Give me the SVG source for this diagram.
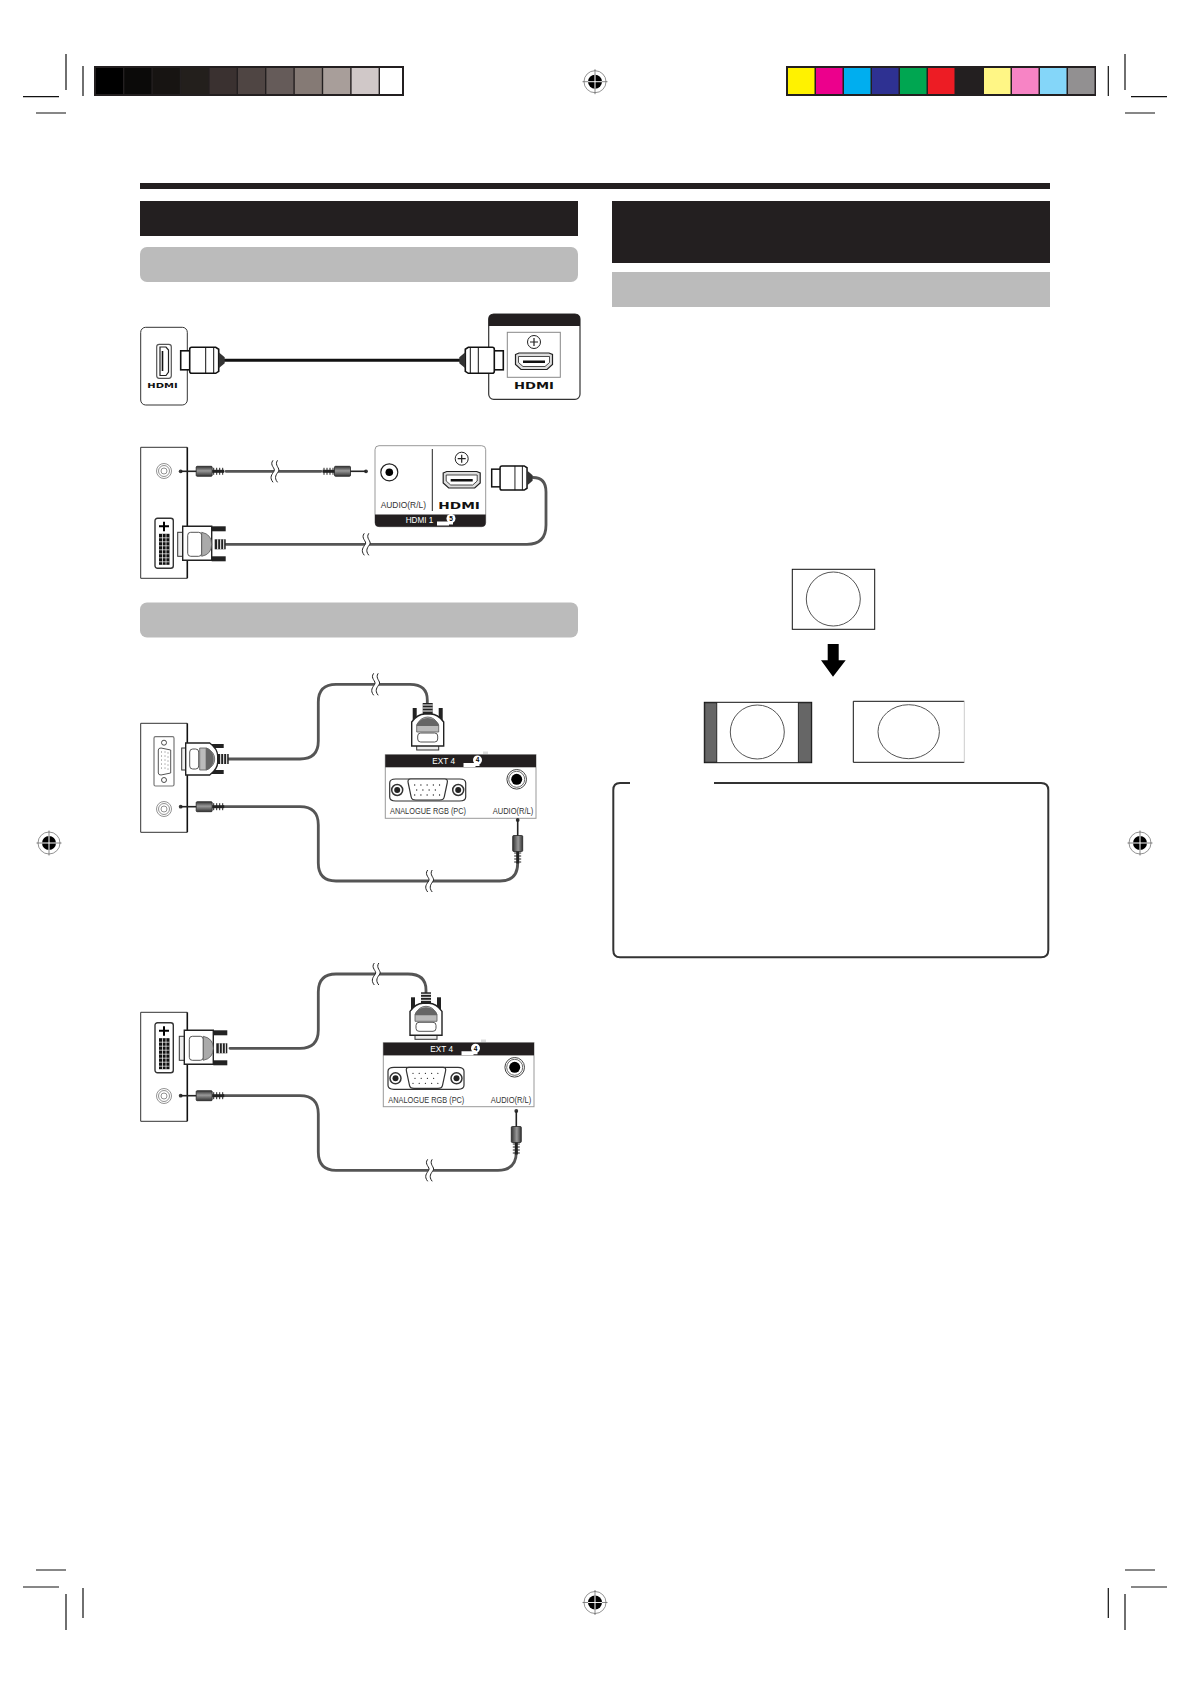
<svg xmlns="http://www.w3.org/2000/svg" xmlns:xlink="http://www.w3.org/1999/xlink" width="1190" height="1684" viewBox="0 0 1190 1684">
<style>
.crop{stroke:#111;stroke-width:1.2;fill:none}
.bk{fill:#231f20}
.gy{fill:#bbb}
.cable{fill:none;stroke:#555;stroke-width:2.8;stroke-linecap:round}
.panel{fill:#fff;stroke:#333;stroke-width:1}
.edge{stroke:#111;stroke-width:1.6;fill:none}
.dev{fill:#fff;stroke:#999;stroke-width:1}
.lbl{font-family:"Liberation Sans",Arial,sans-serif;font-size:8.4px;fill:#333}
.wht{font-family:"Liberation Sans",Arial,sans-serif;font-size:8.4px;fill:#fff}
.num{font-family:"Liberation Sans",Arial,sans-serif;font-size:6.5px;font-weight:bold;fill:#000;text-anchor:middle}
.logo{font-family:"DejaVu Sans",sans-serif;font-weight:bold;fill:#111}
.scr{fill:#fff;stroke:#222;stroke-width:1.4}
.cir{fill:none;stroke:#555;stroke-width:1}
</style>
<defs>
<linearGradient id="barH" x1="0" y1="0" x2="0" y2="1"><stop offset="0" stop-color="#333"/><stop offset=".45" stop-color="#999"/><stop offset="1" stop-color="#333"/></linearGradient>
<g id="target"><circle r="11" fill="#fff" stroke="#777" stroke-width=".8"/><circle r="7" fill="#000"/><path d="M-12.5,0H12.5M0,-12.5V12.5" stroke="#555" stroke-width=".7"/><path d="M-7,0H7M0,-7V7" stroke="#fff" stroke-width=".9"/></g>
<g id="brk"><path d="M-3,-11 C-7,-6 0,-3 -2,0 C-4,3 -7,6 -3,11 H1.500 C-2.500,6 .5,3 2.500,0 C4.500,-3 -2,-6 1.500,-11Z" fill="#fff"/><path d="M-3,-11 C-7,-6 0,-3 -2,0 C-4,3 -7,6 -3,11M1.500,-11 C-2,-6 4.500,-3 2.500,0 C.5,3 -2.500,6 1.500,11" fill="none" stroke="#222" stroke-width="1"/></g>
<g id="hdmiPlug"><rect x="0" y="-9.500" width="10" height="19" fill="#fff" stroke="#111" stroke-width="1.600"/><path d="M9,-11 Q9,-13 11,-13 H35 L38,-11 V11 L35,13 H11 Q9,13 9,11Z" fill="#fff" stroke="#111" stroke-width="1.600"/><path d="M25,-13V13M33,-13V13" stroke="#111" stroke-width="1"/><path d="M38,-8 L44,-3 V3 L38,8Z" fill="#333"/></g>
<g id="audioPlug"><circle r="1.900" fill="#333"/><path d="M0,0H16" stroke="#222" stroke-width="1.600"/><rect x="15.500" y="-5" width="16" height="10" rx="1" fill="url(#barH)" stroke="#222" stroke-width=".8"/><rect x="31.500" y="-1.500" width="12" height="3" fill="#222"/><path d="M33,-3.500V3.500M36,-3.500V3.500M39,-3.500V3.500M42,-3.500V3.500" stroke="#222" stroke-width="1"/></g>
<g id="dsub"><rect x="30" y="-15" width="12" height="4" fill="#222"/><rect x="30" y="11" width="12" height="4" fill="#222"/><rect x="0" y="-11" width="5" height="22" fill="#eee" stroke="#333" stroke-width="1"/><path d="M4,-16 H28 Q36,-10 36,-3 V3 Q36,10 28,16 H4Z" fill="#fff" stroke="#222" stroke-width="1.400"/><rect x="8" y="-10" width="9" height="20" rx="3" fill="#fff" stroke="#555" stroke-width="1"/><path d="M18,-11 H25 Q33,-7 33,0 Q33,7 25,11 H18Z" fill="#bbb" stroke="#555" stroke-width=".8"/><path d="M24,-11 H26 Q32,-7 32,0 Q32,7 26,11 H24Z" fill="#666"/><rect x="36" y="-5" width="11" height="10" fill="#222"/><path d="M39,-5V5M42,-5V5M45,-5V5" stroke="#fff" stroke-width="1"/></g>
<g id="dvi"><rect x="34" y="-18" width="14" height="5" fill="#222"/><rect x="34" y="12" width="14" height="5" fill="#222"/><rect x="0" y="-12" width="6" height="24" fill="#eee" stroke="#333" stroke-width="1"/><path d="M5,-18 H34 V16 H5Z" fill="#fff" stroke="#222" stroke-width="1.400"/><rect x="10" y="-12" width="14" height="24" rx="3" fill="#fff" stroke="#555" stroke-width="1"/><path d="M24,-12 Q34,-10 34,0 Q34,10 24,12Z" fill="#aaa" stroke="#555" stroke-width=".8"/><rect x="37" y="-5" width="11" height="10" fill="#222"/><path d="M40,-5V5M43,-5V5M46,-5V5" stroke="#fff" stroke-width="1"/></g>
<g id="dviPort"><rect x="0" y="0" width="18.300" height="50" rx="2.500" fill="#fff" stroke="#333" stroke-width="1.400"/><path d="M9,3.500V13M4,8H14" stroke="#000" stroke-width="2"/><rect x="4" y="15.500" width="10.500" height="31" fill="#111"/><path d="M7.500,15.500V46.500M11,15.500V46.500M4,19.500H14.500M4,23.500H14.500M4,27.500H14.500M4,31.500H14.500M4,35.500H14.500M4,39.500H14.500M4,43.500H14.500" stroke="#fff" stroke-width=".7"/></g>
<g id="jack"><circle r="7.500" fill="#fff" stroke="#777" stroke-width=".8"/><circle r="5.500" fill="none" stroke="#777" stroke-width=".8"/><circle r="3" fill="none" stroke="#777" stroke-width=".8"/></g>
<g id="hport"><path d="M-18.500,-7 L-15,-8.500 H15 L18.500,-7 V3 L13,8 H-13 L-18.500,3Z" fill="#ddd" stroke="#222" stroke-width="1.200"/><path d="M-15.500,-5 H15.500 V1 L11,5 H-11 L-15.500,1Z" fill="#fff" stroke="#222" stroke-width=".8"/><rect x="-11" y="-1" width="22" height="2.500" fill="#111"/></g>
<g id="plus"><circle r="6.500" fill="#fff" stroke="#222" stroke-width="1"/><path d="M-4,0H4M0,-4V4" stroke="#222" stroke-width="1.200"/></g>
<g id="vgaBig"><path d="M-38,-7 Q-38,-11 -32,-11 H32 Q38,-11 38,-7 V7 Q38,11 32,11 H-32 Q-38,11 -38,7Z" fill="#fff" stroke="#333" stroke-width="1.200"/><path d="M-17,-11 H17 Q20.500,-11 19.500,-7 L16.500,7 Q16,10 12,10 H-12 Q-16,10 -16.500,7 L-19.500,-7 Q-20.500,-11 -17,-11Z" fill="#fff" stroke="#333" stroke-width="1.200"/><circle cx="-30.500" r="5.500" fill="#fff" stroke="#333" stroke-width="1.500"/><circle cx="-30.500" r="3" fill="#222"/><circle cx="30.500" r="5.500" fill="#fff" stroke="#333" stroke-width="1.500"/><circle cx="30.500" r="3" fill="#222"/><path d="M-13,-5H13M-11,0H11M-13,5H13" fill="none" stroke="#222" stroke-width="1.300" stroke-linecap="round" stroke-dasharray=".01 6.200"/></g>
<g id="jackBig"><circle r="9.800" fill="#fff" stroke="#444" stroke-width="1"/><circle r="8" fill="#fff" stroke="#444" stroke-width=".8"/><circle r="5.500" fill="#000"/></g>
<g id="key"><path d="M-14,3 H-2 V7 H-14Z M-2,1 L2,3 V6 H-2Z" fill="#fff"/><circle cx="0" cy="0" r="4.500" fill="#fff"/></g>
</defs>
<rect width="1190" height="1684" fill="#fff"/>

<g id="print-marks">
<path class="crop" d="M66,54V90M83,66V96M23,96.700H59M36,113H66M1108.300,66V96M1125,54V90M1131,96.700H1167M1125,113H1155M36,1570H66M23,1587H59M66,1594V1630M83,1588V1618M1125,1570H1155M1131,1587H1167M1125,1594V1630M1108.300,1588V1618"/>
<use href="#target" x="595" y="81.700"/><use href="#target" x="595" y="1602.500"/><use href="#target" x="49" y="843"/><use href="#target" x="1140" y="843"/>
<rect x="94" y="66" width="310" height="30" fill="#231f20"/>
<rect x="96" y="68" width="27" height="26" fill="#000"/><rect x="124.400" y="68" width="27" height="26" fill="#0b0a09"/><rect x="152.800" y="68" width="27" height="26" fill="#171412"/><rect x="181.200" y="68" width="27" height="26" fill="#231f1c"/><rect x="209.600" y="68" width="27" height="26" fill="#3a3130"/><rect x="238" y="68" width="27" height="26" fill="#4f4543"/><rect x="266.400" y="68" width="27" height="26" fill="#655b59"/><rect x="294.800" y="68" width="27" height="26" fill="#857a75"/><rect x="323.200" y="68" width="27" height="26" fill="#a89e9a"/><rect x="351.600" y="68" width="27" height="26" fill="#d0c8c8"/><rect x="380" y="68" width="22" height="26" fill="#fff"/>
<rect x="786" y="66" width="310" height="30" fill="#231f20"/>
<rect x="788" y="68" width="26.500" height="26" fill="#fff200"/><rect x="816" y="68" width="26.500" height="26" fill="#ec008c"/><rect x="844" y="68" width="26.500" height="26" fill="#00aeef"/><rect x="872" y="68" width="26.500" height="26" fill="#2e3192"/><rect x="900" y="68" width="26.500" height="26" fill="#00a651"/><rect x="928" y="68" width="26.500" height="26" fill="#ed1c24"/><rect x="956" y="68" width="26.500" height="26" fill="#231f20"/><rect x="984" y="68" width="26.500" height="26" fill="#fff685"/><rect x="1012" y="68" width="26.500" height="26" fill="#f784c5"/><rect x="1040" y="68" width="26.500" height="26" fill="#84d6f9"/><rect x="1068" y="68" width="26.500" height="26" fill="#929091"/>
</g>

<g id="headers">
<rect class="bk" x="140" y="183" width="910" height="6"/>
<rect class="bk" x="140" y="201" width="438" height="35"/>
<rect class="gy" x="140" y="247" width="438" height="35" rx="7"/>
<rect class="gy" x="140" y="602.500" width="438" height="35" rx="7"/>
<rect class="bk" x="612" y="201" width="438" height="62"/>
<rect class="gy" x="612" y="272" width="438" height="35"/>
</g>

<g id="connectors">
<path d="M222,360.300H462" fill="none" stroke="#111" stroke-width="3"/>
<path class="cable" d="M226,471.300H321"/><use href="#brk" x="276" y="471.300"/>
<path class="cable" d="M226,544.300H398M376,544.300H527 Q546,544.300 546,525 V492 Q546,477.500 533,477.500"/><use href="#brk" x="367.300" y="544.300"/>
<path class="cable" d="M228,759H300 Q318.300,759 318.300,741 V702 Q318.300,684.300 336,684.300H410 Q427.300,684.300 427.300,700 V704"/><use href="#brk" x="376.700" y="684.300"/>
<path class="cable" d="M224,806.700H300 Q318.300,806.700 318.300,825 V863 Q318.300,881 336,881H500 Q517.700,881 517.700,863"/><use href="#brk" x="430.700" y="881"/>
<path class="cable" d="M230,1048.300H300 Q318.300,1048.300 318.300,1030 V992 Q318.300,974 336,974H408 Q426,974 426,990 V994"/><use href="#brk" x="377.300" y="974"/>
<path class="cable" d="M224,1095.700H300 Q318.300,1095.700 318.300,1114 V1152 Q318.300,1170.300 336,1170.300H498 Q516.300,1170.300 516.300,1152"/><use href="#brk" x="430.700" y="1170.300"/>
</g>

<g id="panel-hdmi">
<rect class="panel" x="140.700" y="327.300" width="46.600" height="77.700" rx="5"/>
<rect x="156.700" y="344.300" width="14.600" height="34" rx="2.500" fill="#fff" stroke="#555" stroke-width="1.200"/>
<path d="M160,347 H166 L168.500,350 V372 L166,375.500 H160 Z" fill="#fff" stroke="#222" stroke-width="1.200"/>
<path d="M162.500,351V371" stroke="#111" stroke-width="1.600"/>
<text class="logo" x="147.300" y="387.500" font-size="7" textLength="30.400" lengthAdjust="spacingAndGlyphs">HDMI</text>
<use href="#hdmiPlug" x="180.700" y="360.300"/>
</g>

<g id="device-hdmi">
<rect x="488.700" y="314" width="91.300" height="85.300" rx="5" fill="#fff" stroke="#333" stroke-width="1.200"/>
<path class="bk" d="M488.700,326V319 Q488.700,314 493.700,314H575 Q580,314 580,319V326Z"/>
<rect x="507.300" y="332.300" width="53" height="45" fill="#fff" stroke="#888" stroke-width="1"/>
<use href="#plus" x="534" y="342"/><use href="#hport" x="534" y="361.500"/>
<text class="logo" x="514" y="388.500" font-size="8.500" textLength="40" lengthAdjust="spacingAndGlyphs">HDMI</text>
<g transform="translate(503.300,360.300) scale(-1,1)"><use href="#hdmiPlug"/></g>
</g>

<g id="panel-dvi-audio">
<path class="panel" d="M187.300,447.300H140.700V578.300H187.300"/><path class="edge" d="M187.300,447.300V578.300"/>
<use href="#jack" x="164" y="471"/><use href="#dviPort" x="155" y="518.300"/>
<use href="#audioPlug" x="180.700" y="471.300"/>
<g transform="translate(366,471.300) scale(-1,1)"><use href="#audioPlug"/></g>
<use href="#dvi" x="177.700" y="544.300"/>
</g>

<g id="device-hdmi1">
<rect class="dev" x="375" y="445.700" width="110.700" height="81" rx="4"/>
<path class="bk" d="M375,514.500H485.700V522.700 Q485.700,526.700 481.700,526.700H379 Q375,526.700 375,522.700Z"/>
<path d="M432.300,449V511" stroke="#222" stroke-width="1"/>
<circle cx="389.300" cy="472.300" r="8.500" fill="#fff" stroke="#222" stroke-width="1.200"/><circle cx="389.300" cy="472.300" r="3.800" fill="#000"/>
<text class="lbl" x="380.700" y="508" textLength="45.300" lengthAdjust="spacingAndGlyphs">AUDIO(R/L)</text>
<use href="#plus" x="461.700" y="458.700"/><use href="#hport" x="461.700" y="480"/>
<text class="logo" x="438.300" y="508.500" font-size="8.500" textLength="41.700" lengthAdjust="spacingAndGlyphs">HDMI</text>
<text class="wht" x="405.700" y="523.300" textLength="27.600" lengthAdjust="spacingAndGlyphs">HDMI 1</text>
<use href="#key" x="451" y="518.500"/><text class="num" x="451" y="521">5</text>
<g transform="translate(491.700,478) scale(.93)"><use href="#hdmiPlug"/></g>
</g>

<g id="panel-vga-audio">
<path class="panel" d="M187.300,723.300H140.700V832.300H187.300"/><path class="edge" d="M187.300,723.300V832.300"/>
<rect x="154" y="736.700" width="20" height="49.300" rx="1.500" fill="#fff" stroke="#777" stroke-width="1.200"/>
<circle cx="164" cy="742.700" r="2.500" class="scr" style="stroke-width:.8"/><circle cx="164" cy="780" r="2.500" class="scr" style="stroke-width:.8"/>
<path d="M158.300,750 Q158.300,748 161,748 L170.700,750 V773 L161,775 Q158.300,775 158.300,773Z" fill="#fff" stroke="#555" stroke-width="1"/>
<path d="M161.500,752V771M165,752V771M168,753V770" stroke="#555" stroke-width="1" stroke-linecap="round" stroke-dasharray=".01 4"/>
<use href="#jack" x="164" y="809"/>
<use href="#dsub" x="181.700" y="759"/>
<use href="#audioPlug" x="180.700" y="806.700"/>
</g>

<g id="device-ext4-a">
<rect x="483" y="751.500" width="5" height="6" fill="#ddd"/>
<rect class="dev" x="385.300" y="754.700" width="150.700" height="63.600"/>
<rect class="bk" x="385.300" y="754.700" width="150.700" height="12.600"/>
<text class="wht" x="432.300" y="763.500" textLength="22.700" lengthAdjust="spacingAndGlyphs">EXT 4</text>
<use href="#key" x="477.500" y="760"/><text class="num" x="477.500" y="762.300">4</text>
<use href="#vgaBig" x="427.700" y="790"/><use href="#jackBig" x="516.700" y="779.300"/>
<text class="lbl" x="390" y="814.300" textLength="76" lengthAdjust="spacingAndGlyphs">ANALOGUE RGB (PC)</text>
<text class="lbl" x="492.700" y="814.300" textLength="40.600" lengthAdjust="spacingAndGlyphs">AUDIO(R/L)</text>
<g transform="translate(427.700,750) rotate(-90)"><use href="#dsub"/></g>
<g transform="translate(517.700,820) rotate(90)"><use href="#audioPlug"/></g>
</g>

<g id="panel-dvi-audio-2">
<path class="panel" d="M187.300,1012.300H140.700V1121.300H187.300"/><path class="edge" d="M187.300,1012.300V1121.300"/>
<use href="#dviPort" x="155" y="1022.700"/><use href="#jack" x="164" y="1096"/>
<use href="#dvi" x="179.300" y="1048.300"/>
<use href="#audioPlug" x="180.700" y="1095.700"/>
</g>

<g id="device-ext4-b">
<rect x="481" y="1039.500" width="5" height="6" fill="#ddd"/>
<rect class="dev" x="383.300" y="1042.700" width="150.700" height="64"/>
<rect class="bk" x="383.300" y="1042.700" width="150.700" height="12.700"/>
<text class="wht" x="430.300" y="1051.700" textLength="22.700" lengthAdjust="spacingAndGlyphs">EXT 4</text>
<use href="#key" x="475.500" y="1048.300"/><text class="num" x="475.500" y="1050.600">4</text>
<use href="#vgaBig" x="426" y="1078.300"/><use href="#jackBig" x="514.700" y="1067.300"/>
<text class="lbl" x="388.300" y="1102.700" textLength="76" lengthAdjust="spacingAndGlyphs">ANALOGUE RGB (PC)</text>
<text class="lbl" x="490.700" y="1102.700" textLength="40.600" lengthAdjust="spacingAndGlyphs">AUDIO(R/L)</text>
<g transform="translate(426,1039.300) rotate(-90)"><use href="#dsub"/></g>
<g transform="translate(516.300,1111) rotate(90)"><use href="#audioPlug"/></g>
</g>

<g id="screen-4-3">
<rect x="792.300" y="569.300" width="82.400" height="60" fill="#fff" stroke="#111" stroke-width="1"/>
<circle class="cir" cx="833.300" cy="599" r="27"/>
</g>
<path id="down-arrow" d="M827.700,644H838.700V660.300H845.700L833,676.700L821,660.300H827.700Z" fill="#000"/>
<g id="screen-pillarbox">
<rect x="704.300" y="702.300" width="107.400" height="60.400" fill="#fff" stroke="#111" stroke-width="1"/>
<rect x="704.800" y="702.800" width="12" height="59.400" fill="#666" stroke="#111" stroke-width=".8"/>
<rect x="798.300" y="702.800" width="13" height="59.400" fill="#666" stroke="#111" stroke-width=".8"/>
<circle class="cir" cx="757.300" cy="732" r="27"/>
</g>
<g id="screen-stretched">
<path d="M964.300,701.300H853.300V762.300H964.300" fill="#fff" stroke="#111" stroke-width="1"/>
<path d="M964.300,701.300V762.300" stroke="#ccc" stroke-width="1"/>
<ellipse class="cir" cx="908.700" cy="731.700" rx="30.700" ry="27"/>
</g>
<path id="note-box" d="M630,783H620 Q613.300,783 613.300,790V950 Q613.300,957.300 620,957.300H1041 Q1048.300,957.300 1048.300,950V790 Q1048.300,783 1041,783H714" fill="none" stroke="#333" stroke-width="2"/>
</svg>
